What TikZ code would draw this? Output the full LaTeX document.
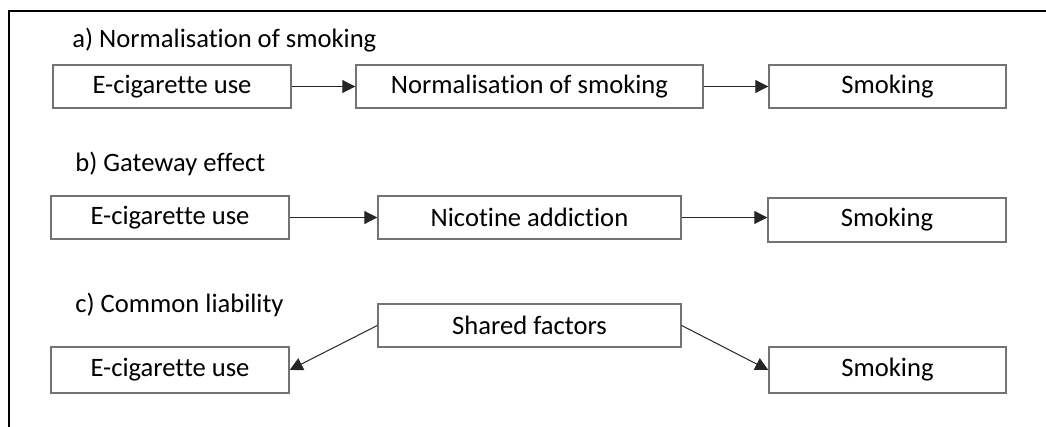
\documentclass[tikz,border=0pt]{standalone}
\usepackage{fontspec}
\setmainfont{Carlito}[Ligatures=NoCommon,RawFeature=-liga]
\usetikzlibrary{arrows.meta}

\begin{document}
\begin{tikzpicture}[x=0.5pt,y=-0.5pt,
		box/.style={draw=black!55,line width=0.7pt,minimum height=21.5pt,inner sep=0pt,font=\fontsize{13.3}{16}\selectfont},
		title/.style={anchor=west,inner sep=0pt,font=\fontsize{13.3}{16}\selectfont},
		link/.style={-{Triangle[length=6.5pt,width=6.5pt]},black!85,line width=0.5pt}]
		\useasboundingbox (0,0) rectangle (1046,427);
		\draw[line width=1pt] (1046,11) -- (9,11) -- (9,427);
		
		% a) normalisation
		\node[title] (ta) at (72,40) {a) Normalisation of smoking};
		\node[box,minimum width=119pt] (ecigA) at (172,86.5) {E-cigarette use};
		\node[box,minimum width=173.5pt] (norm) at (529.5,86.5) {Normalisation of smoking};
		\node[box,minimum width=118.5pt] (smokeA) at (887.5,86.5) {Smoking};
		\draw[link] (ecigA.east)--(norm.west);
		\draw[link] (norm.east)--(smokeA.west);
		
		% b) gateway
		\node[title] (tb) at (75,164) {b) Gateway effect};
		\node[box,minimum width=119pt] (ecigB) at (170,217.5) {E-cigarette use};
		\node[box,minimum width=151.5pt] (nic) at (529.5,217.5) {Nicotine addiction};
		\node[box,minimum width=119pt,minimum height=22pt] (smokeB) at (887,220) {Smoking};
		\draw[link] (ecigB.east)--(nic.west);
		\draw[link] (nic.east)--(smokeB.west|-nic.east);
		
		% c) common liability
		\node[title] (tc) at (75,305) {c) Common liability};
		\node[box,minimum width=151.5pt] (shared) at (529.5,325.5) {Shared factors};
		\node[box,minimum width=119pt,minimum height=23pt] (ecigC) at (170,370) {E-cigarette use};
		\node[box,minimum width=118.5pt,minimum height=23pt] (smokeC) at (887.5,370) {Smoking};
		\draw[link] (shared.west)--(ecigC.east);
		\draw[link] (shared.east)--(smokeC.west);
	\end{tikzpicture}
\end{document}
